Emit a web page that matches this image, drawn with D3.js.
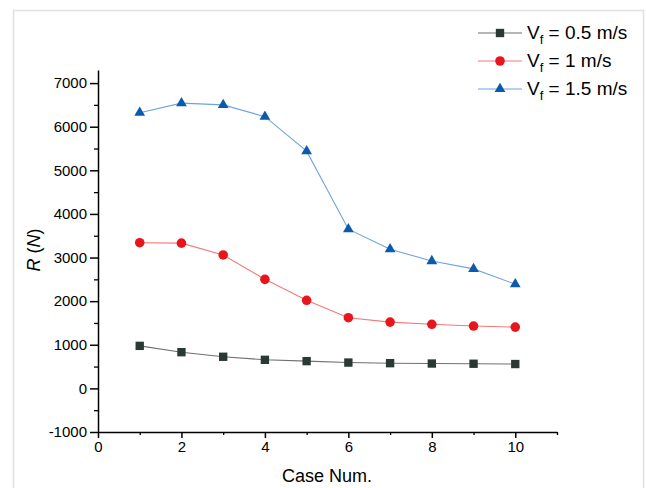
<!DOCTYPE html>
<html>
<head>
<meta charset="utf-8">
<script src="https://cdn.jsdelivr.net/npm/d3@7"></script>
<style>
  body { margin: 0; background: #fff; }
  svg { font-family: "Liberation Sans", Arial, sans-serif; }
</style>
</head>
<body>
<svg id="chart" width="646" height="488"></svg>
<script>
// values
var cases = [1, 2, 3, 4, 5, 6, 7, 8, 9, 10];
var vf05 = [975, 830, 725, 655, 625, 592, 578, 570, 565, 558];
var vf1 = [3340, 3330, 3060, 2500, 2020, 1620, 1520, 1470, 1430, 1405];
var vf15 = [6320, 6540, 6500, 6230, 5440, 3650, 3190, 2920, 2740, 2390];
var seriesNames = ["0.5 m/s", "1 m/s", "1.5 m/s"];
var xTicks = [0, 2, 4, 6, 8, 10];
var xMinor = [1, 3, 5, 7, 9, 11];
var yTicks = [-1000, 0, 1000, 2000, 3000, 4000, 5000, 6000, 7000];
var yMinor = [-500, 500, 1500, 2500, 3500, 4500, 5500, 6500];

var svg = d3.select("#chart");

// light frame round the figure
svg.append("rect")
  .attr("x", 13.5).attr("y", 10.5)
  .attr("width", 630).attr("height", 500)
  .attr("fill", "none")
  .attr("stroke", "#e0e0e0")
  .attr("stroke-width", 1.5);

var xScale = d3.scaleLinear().domain([0, 11]).range([98, 557]);
var yScale = d3.scaleLinear().domain([-1000, 7300]).range([432, 70]);

var plain = function(d) { return String(d); };

// minor ticks first
svg.append("g")
  .attr("transform", "translate(0,432)")
  .call(d3.axisBottom(xScale).tickValues(xMinor).tickSize(3).tickFormat(""))
  .call(function(g) { g.select(".domain").remove(); })
  .selectAll("line").attr("stroke-width", 1.3);

svg.append("g")
  .attr("transform", "translate(98,0)")
  .call(d3.axisLeft(yScale).tickValues(yMinor).tickSize(4).tickFormat(""))
  .call(function(g) { g.select(".domain").remove(); })
  .selectAll("line").attr("stroke-width", 1.3);

// x axis
var xAxis = svg.append("g")
  .attr("transform", "translate(0,432)")
  .call(d3.axisBottom(xScale).tickValues(xTicks).tickFormat(plain)
    .tickSizeInner(6).tickSizeOuter(0).tickPadding(3));
xAxis.select(".domain").attr("stroke-width", 1.5);
xAxis.selectAll(".tick line").attr("stroke-width", 1.5);
xAxis.selectAll("text").attr("font-size", 15).attr("fill", "#000");

// y axis
var yAxis = svg.append("g")
  .attr("transform", "translate(98,0)")
  .call(d3.axisLeft(yScale).tickValues(yTicks).tickFormat(plain)
    .tickSizeInner(8).tickSizeOuter(0).tickPadding(3));
yAxis.select(".domain").attr("stroke-width", 1.5);
yAxis.selectAll(".tick line").attr("stroke-width", 1.5);
yAxis.selectAll("text").attr("font-size", 15).attr("fill", "#000");

// axis titles
svg.append("text")
  .attr("x", 327).attr("y", 482)
  .attr("text-anchor", "middle")
  .attr("font-size", 18)
  .text("Case Num.");

var yTitle = svg.append("text")
  .attr("transform", "translate(40,250) rotate(-90)")
  .attr("text-anchor", "middle")
  .attr("font-size", 18);
yTitle.append("tspan").attr("font-style", "italic").text("R");
yTitle.append("tspan").text(" (");
yTitle.append("tspan").attr("font-style", "italic").text("N");
yTitle.append("tspan").text(")");

var series = [
  { values: vf05, line: "#707070", fill: "#2a3a33", shape: d3.symbolSquare, size: 70 },
  { values: vf1, line: "#f07a7a", fill: "#e8161c", shape: d3.symbolCircle, size: 72 },
  { values: vf15, line: "#6ea3dd", fill: "#0b5aad", shape: d3.symbolTriangle, size: 50 }
];

var line = d3.line()
  .x(function(d, i) { return xScale(cases[i]); })
  .y(function(d) { return yScale(d); });

series.forEach(function(s) {
  svg.append("path")
    .attr("d", line(s.values))
    .attr("fill", "none")
    .attr("stroke", s.line)
    .attr("stroke-width", 1.1);

  svg.selectAll(null)
    .data(s.values)
    .enter()
    .append("path")
      .attr("transform", function(d, i) {
        return "translate(" + xScale(cases[i]) + "," + yScale(d) + ")";
      })
      .attr("d", d3.symbol().type(s.shape).size(s.size))
      .attr("fill", s.fill);
});

// legend
var legend = svg.append("g");
series.forEach(function(s, i) {
  var y = 33 + i * 28;
  legend.append("line")
    .attr("x1", 478).attr("x2", 522)
    .attr("y1", y).attr("y2", y)
    .attr("stroke", s.line)
    .attr("stroke-width", 1.1);
  legend.append("path")
    .attr("transform", "translate(500," + y + ")")
    .attr("d", d3.symbol().type(s.shape).size(s.size))
    .attr("fill", s.fill);
  var t = legend.append("text")
    .attr("x", 527).attr("y", y + 6)
    .attr("font-size", 19);
  t.append("tspan").text("V");
  t.append("tspan").attr("font-size", 13).attr("dy", 5).text("f");
  t.append("tspan").attr("dy", -5).text(" = " + seriesNames[i]);
});
</script>
</body>
</html>
